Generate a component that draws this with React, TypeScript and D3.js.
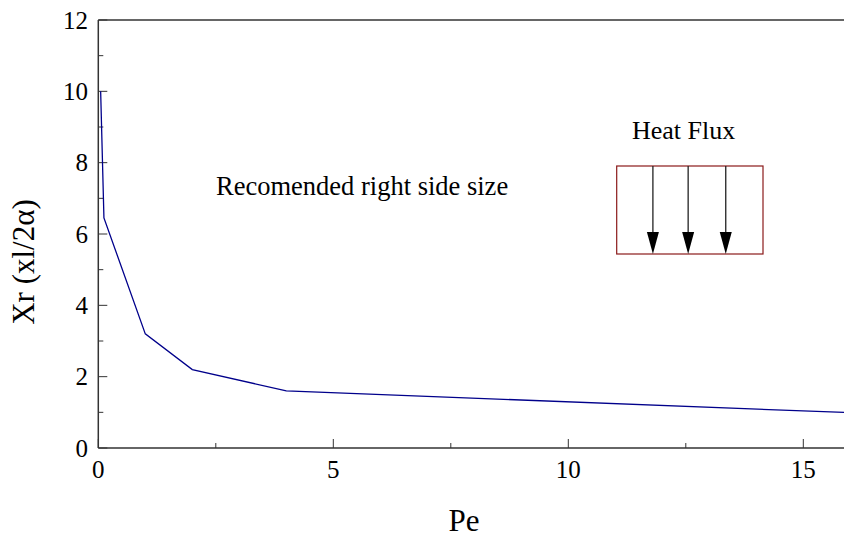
import React from "react";
import * as d3 from "d3";

const peValues = [0.05, 0.12, 1, 2, 4, 16];
const xrValues = [10, 6.45, 3.2, 2.2, 1.6, 0.99];
const xMajorTicks = [0, 5, 10, 15];
const xMinorTicks = [2.5, 7.5, 12.5];
const yMajorTicks = [0, 2, 4, 6, 8, 10, 12];
const yMinorTicks = [1, 3, 5, 7, 9, 11];
const arrowPositions = [11.8, 12.55, 13.35];

const W = 844, H = 538;
const left = 98.3, top = 20, bottom = 448;

export default function App() {
  const x = d3.scaleLinear().domain([0, 5]).range([left, 333.3]);
  const y = d3.scaleLinear().domain([0, 12]).range([bottom, top]);
  const line = d3.line<number>().x((_, i) => x(peValues[i])).y((d) => y(d));
  const axisColor = "#333";
  const boxTop = 166, boxBot = 254;
  const boxL = 616.7, boxR = 763;
  return (
    <svg width={W} height={H} fontFamily="Liberation Serif" style={{ position: "absolute", left: 0, top: 0, background: "#fff", fontFamily: "Liberation Serif" }}>
      <defs>
        <clipPath id="plot">
          <rect x={left} y={top} width={W - left} height={bottom - top} />
        </clipPath>
      </defs>
      <line x1={left} x2={W} y1={bottom} y2={bottom} stroke={axisColor} strokeWidth={1.5} />
      <line x1={left} x2={W} y1={top} y2={top} stroke={axisColor} strokeWidth={1.5} />
      <line x1={left} x2={left} y1={top} y2={bottom} stroke={axisColor} strokeWidth={1.5} />
      {xMajorTicks.map((t) => (
        <g key={"xm" + t}>
          <line x1={x(t)} x2={x(t)} y1={bottom} y2={bottom - 9} stroke={axisColor} strokeWidth={1} />
          <text x={x(t)} y={478} textAnchor="middle" fontSize={25} fill="#000">{t}</text>
        </g>
      ))}
      {xMinorTicks.map((t) => (
        <line key={"xn" + t} x1={x(t)} x2={x(t)} y1={bottom} y2={bottom - 5} stroke={axisColor} strokeWidth={1} />
      ))}
      {yMajorTicks.map((t) => (
        <g key={"ym" + t}>
          <line x1={left} x2={left + 9} y1={y(t)} y2={y(t)} stroke={axisColor} strokeWidth={1} />
          <text x={88} y={y(t) + 8.5} textAnchor="end" fontSize={25} fill="#000">{t}</text>
        </g>
      ))}
      {yMinorTicks.map((t) => (
        <line key={"yn" + t} x1={left} x2={left + 5} y1={y(t)} y2={y(t)} stroke={axisColor} strokeWidth={1} />
      ))}
      <path d={line(xrValues) || ""} fill="none" stroke="#00008B" strokeWidth={1.3} clipPath="url(#plot)" />
      <text transform={`translate(34,262) rotate(-90)`} textAnchor="middle" fontSize={31} fill="#000">Xr (xl/2α)</text>
      <text x={464} y={531} textAnchor="middle" fontSize={31} fill="#000">Pe</text>
      <text x={216} y={195} fontSize={26.5} fill="#000">Recomended right side size</text>
      <text x={632} y={139} fontSize={26} fill="#000">Heat Flux</text>
      <rect x={boxL} y={boxTop} width={boxR - boxL} height={boxBot - boxTop} fill="none" stroke="#8B1A1A" strokeWidth={1.2} />
      {arrowPositions.map((a) => {
        const ax = x(a);
        return (
          <g key={"a" + a}>
            <line x1={ax} x2={ax} y1={boxTop} y2={boxBot - 20} stroke="#222" strokeWidth={1.3} />
            <path d={`M${ax - 6},${boxBot - 22} L${ax + 6},${boxBot - 22} L${ax},${boxBot} Z`} fill="#000" />
          </g>
        );
      })}
    </svg>
  );
}
